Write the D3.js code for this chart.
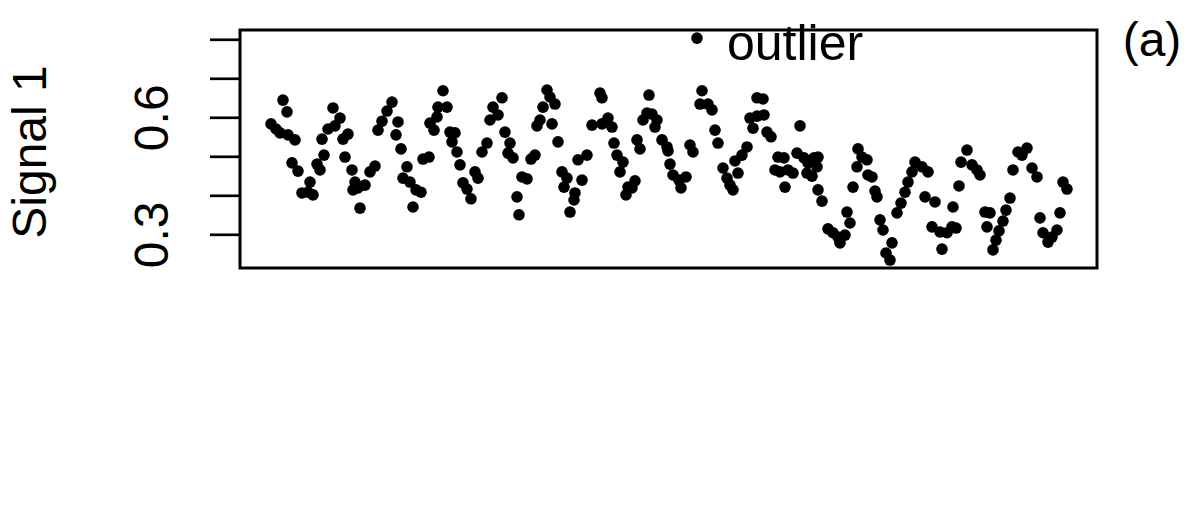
<!DOCTYPE html>
<html>
<head>
<meta charset="utf-8">
<script src="https://cdn.jsdelivr.net/npm/d3@7/dist/d3.min.js"></script>
<style>
  html, body { margin: 0; padding: 0; background: #fff; }
  svg { display: block; }
  text { font-family: "Liberation Sans", Arial, sans-serif; fill: #000; }
</style>
</head>
<body>
<svg id="chart" width="1200" height="510"></svg>
<script>
// ---- data ----
const time = [
  7.75, 9.0, 10.0, 10.75, 11.75, 12.0, 13.0, 13.75, 14.5, 15.5, 17.0, 17.5, 18.25,
  19.25, 20.0, 20.5, 21.0, 22.0, 23.25, 23.75, 25.0, 25.75, 26.25, 27.0, 28.0, 28.25, 28.75, 29.5, 30.0, 31.25, 32.5, 33.75,
  34.5, 35.5, 36.75, 38.0, 39.0, 39.5, 40.25, 40.75, 41.75, 42.5, 43.25, 44.0, 45.25, 45.75, 47.25,
  47.5, 48.5, 49.25, 49.5, 50.75, 51.75, 52.5, 53.0, 53.75, 54.25, 55.0, 55.75, 56.75, 57.75, 58.75, 59.5, 60.5, 61.75,
  62.5, 63.25, 64.5, 65.5, 66.25, 67.0, 67.5, 68.25, 69.25, 69.75, 70.5, 71.75, 72.75, 73.75,
  74.25, 75.0, 75.75, 76.75, 77.5, 78.0, 78.75, 79.5, 80.5, 81.0, 81.75, 82.5, 83.5, 83.75, 84.5, 85.5, 86.75,
  88.0, 90.0, 90.5, 90.5, 92.0, 93.0, 93.5, 94.25, 95.0, 95.75, 96.5, 97.0, 98.0, 98.75, 99.25, 100.0,
  100.75, 101.75, 102.25, 103.0, 103.75, 104.25, 105.5, 106.75, 107.0, 107.5, 108.25, 109.75, 110.25, 111.5, 112.5, 113.25,
  114.25, 115.0, 115.5, 117.0, 118.0, 118.75, 119.5, 120.75, 121.75, 122.5, 123.25, 123.75, 124.5, 125.5, 126.75,
  127.5, 128.25, 129.25, 129.25, 130.75, 131.0, 131.75, 132.75, 133.75, 134.5, 135.0, 136.0, 136.25, 137.0, 138.25, 139.25,
  140.0, 141.0, 141.75, 142.0, 143.0, 143.5, 144.5, 144.25, 144.5,
  145.5, 147.0, 148.25, 149.5, 150.0, 151.25, 151.75, 152.5, 153.25, 154.5, 155.5, 154.25, 156.75, 157.0, 158.0, 158.75,
  159.25, 160.0, 160.75, 161.5, 162.5, 163.0,
  164.25, 165.25, 166.25, 167.0, 168.0, 168.75, 170.5, 172.0, 171.25, 173.75, 173.0, 175.0, 176.75, 175.5, 178.0, 179.0,
  178.25, 179.75, 180.25,
  181.75, 183.0, 184.25, 185.0, 186.25, 187.5, 186.75, 188.25, 189.0, 189.75, 190.75, 191.5, 192.5, 193.25, 194.5, 195.5,
  196.75, 198.0, 199.25, 200.0, 200.75, 202.0, 203.0, 204.25, 205.0, 205.75, 206.75
];
const signal = [
  0.583, 0.570, 0.560, 0.644, 0.614, 0.555, 0.483, 0.542, 0.462, 0.406, 0.408, 0.434, 0.401,
  0.480, 0.465, 0.544, 0.503, 0.570, 0.624, 0.578, 0.598, 0.544, 0.498, 0.557, 0.465, 0.414, 0.434, 0.419, 0.367, 0.426, 0.460, 0.475,
  0.567, 0.590, 0.616, 0.639, 0.555, 0.588, 0.519, 0.444, 0.473, 0.434, 0.370, 0.414, 0.408, 0.493, 0.498,
  0.585, 0.567, 0.601, 0.626, 0.668, 0.626, 0.562, 0.537, 0.560, 0.511, 0.478, 0.432, 0.416, 0.391, 0.460, 0.444, 0.511, 0.534,
  0.593, 0.626, 0.606, 0.650, 0.562, 0.508, 0.534, 0.496, 0.396, 0.350, 0.447, 0.442, 0.493, 0.503,
  0.578, 0.593, 0.626, 0.670, 0.652, 0.583, 0.634, 0.537, 0.460, 0.421, 0.444, 0.357, 0.388, 0.406, 0.491, 0.439, 0.503,
  0.580, 0.662, 0.650, 0.583, 0.598, 0.575, 0.534, 0.503, 0.460, 0.485, 0.401, 0.421, 0.419, 0.437, 0.542, 0.519,
  0.593, 0.611, 0.657, 0.608, 0.575, 0.593, 0.542, 0.524, 0.514, 0.480, 0.452, 0.439, 0.419, 0.447, 0.529, 0.511,
  0.803, 0.634, 0.668, 0.634, 0.619, 0.567, 0.534, 0.470, 0.444, 0.426, 0.414, 0.488, 0.457, 0.503, 0.524,
  0.598, 0.572, 0.650, 0.603, 0.647, 0.606, 0.562, 0.550, 0.465, 0.498, 0.460, 0.496, 0.421, 0.465, 0.457, 0.508,
  0.578, 0.496, 0.457, 0.483, 0.449, 0.496, 0.498, 0.473, 0.414,
  0.385, 0.314, 0.304, 0.293, 0.278, 0.298, 0.357, 0.329, 0.421, 0.519, 0.498, 0.473, 0.491, 0.452, 0.447, 0.411,
  0.396, 0.337, 0.311, 0.252, 0.234, 0.278,
  0.355, 0.380, 0.408, 0.434, 0.460, 0.485, 0.473, 0.460, 0.396, 0.383, 0.319, 0.306, 0.304, 0.262, 0.319, 0.316,
  0.370, 0.424, 0.485,
  0.516, 0.478, 0.465, 0.452, 0.357, 0.355, 0.319, 0.260, 0.285, 0.309, 0.334, 0.362, 0.393, 0.465, 0.511, 0.503,
  0.521, 0.470, 0.447, 0.342, 0.304, 0.280, 0.293, 0.311, 0.355, 0.434, 0.416
];
const yTicks = [0.3, 0.4, 0.5, 0.6, 0.7, 0.8];
const yTickLabels = ["0.3", "", "", "0.6", "", ""];
const outlierTime = 114.25;
const outlierValue = 0.803;
const outlierLabel = "outlier";
const yLabel = "Signal 1";
const panelLabel = "(a)";

// ---- layout ----
const box = { left: 240, top: 30, right: 1097, bottom: 268 };
const svg = d3.select("#chart");

const x = d3.scaleLinear().domain([0, 214.25]).range([box.left, box.right]);
const y = d3.scaleLinear().domain([0.2136, 0.8238]).range([box.bottom, box.top]);

// points
svg.append("g")
  .selectAll("circle")
  .data(time.map((t, i) => ({ t, v: signal[i] })))
  .join("circle")
  .attr("cx", d => x(d.t))
  .attr("cy", d => y(d.v))
  .attr("r", 5.8)
  .attr("fill", "#000");

// y axis
const axis = d3.axisLeft(y)
  .tickValues(yTicks)
  .tickSize(30)
  .tickPadding(0)
  .tickFormat((d, i) => yTickLabels[i]);

const gAxis = svg.append("g")
  .attr("transform", `translate(${box.left},0)`)
  .call(axis);
gAxis.select(".domain").remove();
gAxis.selectAll(".tick line").attr("stroke", "#000").attr("stroke-width", 2.7);
gAxis.selectAll(".tick text")
  .attr("x", 0)
  .attr("y", -72)
  .attr("dy", 0)
  .attr("transform", "rotate(-90)")
  .attr("text-anchor", "middle")
  .style("font-size", "48px")
  .style("font-family", "'Liberation Sans', Arial, sans-serif")
  .attr("fill", "#000");

// plot frame
svg.append("rect")
  .attr("x", box.left)
  .attr("y", box.top)
  .attr("width", box.right - box.left)
  .attr("height", box.bottom - box.top)
  .attr("fill", "none")
  .attr("stroke", "#000")
  .attr("stroke-width", 3);

// outlier label
svg.append("text")
  .attr("x", x(outlierTime) + 30)
  .attr("y", y(outlierValue) + 22)
  .attr("text-anchor", "start")
  .style("font-size", "50px")
  .text(outlierLabel);

// y label
svg.append("text")
  .attr("transform", "translate(46,152) rotate(-90)")
  .attr("text-anchor", "middle")
  .style("font-size", "48px")
  .text(yLabel);

// panel label
svg.append("text")
  .attr("x", 1152)
  .attr("y", 56)
  .attr("text-anchor", "middle")
  .style("font-size", "48px")
  .text(panelLabel);
</script>
</body>
</html>
